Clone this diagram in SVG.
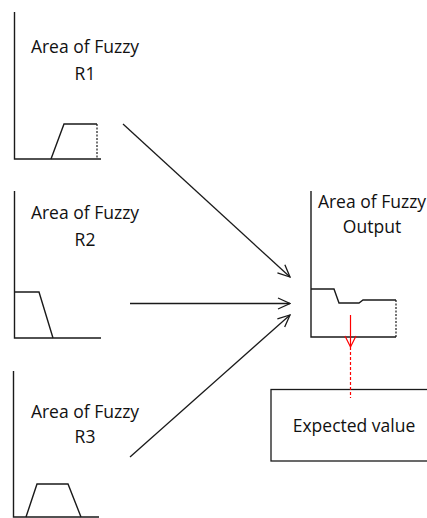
<svg xmlns="http://www.w3.org/2000/svg" width="427" height="518" viewBox="0 0 427 518">
<style>
.ax{fill:none;stroke:#1a1a1a;stroke-width:1.4}
.sh{fill:none;stroke:#1a1a1a;stroke-width:1.4;stroke-linejoin:miter}
.dash{fill:none;stroke:#1a1a1a;stroke-width:1.2;stroke-dasharray:2,1.5}
.conn{fill:none;stroke:#1a1a1a;stroke-width:1.3}
.t{font-family:"Open Sans","Liberation Sans",sans-serif;font-size:17.5px;fill:#111111;text-anchor:middle}
.red{fill:none;stroke:#ff0000;stroke-width:1.2}
</style>
<defs>
<marker id="ah" viewBox="0 0 14 14" refX="13" refY="7" markerWidth="14" markerHeight="14" markerUnits="userSpaceOnUse" orient="auto">
<path d="M1,1.5 L13,7 L1,12.5" fill="none" stroke="#1a1a1a" stroke-width="1.3"/>
</marker>
</defs>
<rect width="427" height="518" fill="#ffffff"/>
<g id="r1">
<polyline class="ax" points="14.5,12 14.5,159 101,159"/>
<polyline class="sh" points="51,159 64,124 97,124"/>
<line class="dash" x1="97" y1="124" x2="97" y2="159"/>
<text class="t" x="85" y="53">Area of Fuzzy</text>
<text class="t" x="85" y="80">R1</text>
</g>
<g id="r2">
<polyline class="ax" points="14.5,191 14.5,338 101,338"/>
<polyline class="sh" points="14.5,292 39,292 53,338"/>
<text class="t" x="85" y="219">Area of Fuzzy</text>
<text class="t" x="85" y="246">R2</text>
</g>
<g id="r3">
<polyline class="ax" points="13.5,371 13.5,517 99,517"/>
<polyline class="sh" points="26,517 37,484 68,484 81,517"/>
<text class="t" x="85" y="418">Area of Fuzzy</text>
<text class="t" x="85" y="443">R3</text>
</g>
<g id="output">
<polyline class="ax" points="311,191 311,337 396,337"/>
<polyline class="sh" points="311,289 334,289 339,303 359,303 363,300 396,300"/>
<line class="dash" x1="396" y1="300" x2="396" y2="337"/>
<text class="t" x="372" y="208">Area of Fuzzy</text>
<text class="t" x="372" y="233">Output</text>
</g>
<g id="expected">
<rect x="271" y="389.5" width="170" height="71.5" fill="none" stroke="#1a1a1a" stroke-width="1.3"/>
<text class="t" x="354" y="432">Expected value</text>
</g>
<g id="connectors">
<line class="conn" x1="123" y1="124" x2="290" y2="277" marker-end="url(#ah)"/>
<line class="conn" x1="130" y1="303.5" x2="290" y2="303.5" marker-end="url(#ah)"/>
<line class="conn" x1="130" y1="457" x2="290" y2="315" marker-end="url(#ah)"/>
<line class="red" x1="350.5" y1="315" x2="350.5" y2="347"/>
<polyline class="red" points="345,336 350.5,347 356,336"/>
<line class="red" x1="350.5" y1="347" x2="350.5" y2="398" stroke-dasharray="3,2"/>
</g>
</svg>
